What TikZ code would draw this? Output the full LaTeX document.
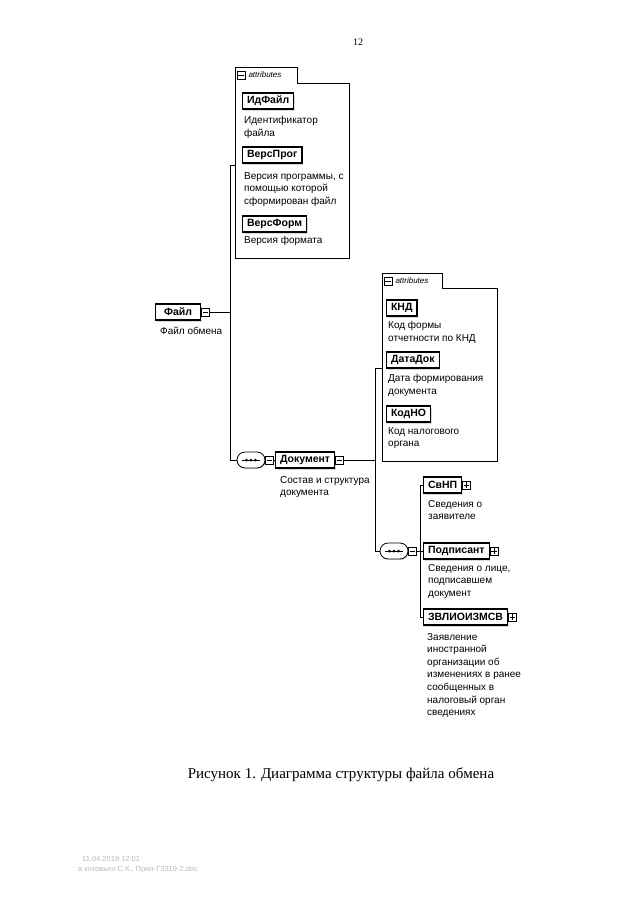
\documentclass[tikz,border=0pt]{standalone}
\usepackage{fontspec}
\setmainfont{Liberation Serif}
\setsansfont{Liberation Sans}
\usetikzlibrary{shapes.misc,positioning,shadows}

\tikzset{
  elem/.style={draw, line width=1.1pt, fill=white, anchor=west,
    font=\sffamily\bfseries\fontsize{10.5}{12}\selectfont,
    inner xsep=4.5pt, inner ysep=0pt, minimum height=16,
    drop shadow={shadow xshift=1.2pt, shadow yshift=-1.5pt, fill=gray!60, opacity=0.5}},
  note/.style={anchor=north west, align=left, inner sep=0pt,
    font=\sffamily\fontsize{10}{12.6}\selectfont},
  minusicon/.style={draw, fill=white, line width=0.6pt, minimum size=8, inner sep=0pt,
    path picture={\draw[line width=0.6pt] ([xshift=1.4pt]path picture bounding box.west) -- ([xshift=-1.4pt]path picture bounding box.east);}},
  plusicon/.style={draw, fill=white, line width=0.6pt, minimum size=8, inner sep=0pt,
    path picture={\draw[line width=0.6pt] ([xshift=1.4pt]path picture bounding box.west) -- ([xshift=-1.4pt]path picture bounding box.east)
      ([yshift=-1.4pt]path picture bounding box.north) -- ([yshift=1.4pt]path picture bounding box.south);}},
  seqbox/.style={draw, line width=0.8pt, fill=white, rounded rectangle,
    minimum width=28, minimum height=16, inner sep=0pt,
    drop shadow={shadow xshift=1pt, shadow yshift=-1pt, fill=gray!60, opacity=0.4}},
  attrbox/.style={draw, line width=0.7pt, fill=white,
    drop shadow={shadow xshift=1.2pt, shadow yshift=-1.2pt, fill=gray!60, opacity=0.5}},
  tabtext/.style={anchor=west, inner sep=0pt, font=\sffamily\itshape\fontsize{8}{9}\selectfont},
  footnote/.style={anchor=west, inner sep=0pt, text=gray!55, font=\sffamily\fontsize{7.5}{8}\selectfont},
  link/.style={line width=0.7pt}
}

\begin{document}
\begin{tikzpicture}[x=1pt,y=-1pt]
\useasboundingbox (0,0) rectangle (640,905);

\node[font=\fontsize{10}{12}\selectfont] (pnum) at (358,42) {12};

\draw[attrbox] (235,258) -- (235,67) -- (297,67) -- (297,83) -- (349,83) -- (349,258) -- cycle;
\node[minusicon] (tab1-i) at (241,75) {};
\node[tabtext, right=3pt of tab1-i] (tab1) {attributes};

\node[elem] (idfajl) at (242,101) {ИдФайл};
\node[note] (idfajl-n) at (244,116) {Идентификатор\\файла};
\node[elem] (versprog) at (242,155) {ВерсПрог};
\node[note] (versprog-n) at (244,172) {Версия программы, с\\помощью которой\\сформирован файл};
\node[elem] (versform) at (242,224) {ВерсФорм};
\node[note] (versform-n) at (244,236) {Версия формата};

\node[elem, minimum width=45] (fajl) at (155,312) {Файл};
\node[minusicon, right=0pt of fajl] (fajl-i) {};
\node[note] (fajl-n) at (160,327) {Файл обмена};

\draw[attrbox] (382,461) -- (382,273) -- (442,273) -- (442,288) -- (497,288) -- (497,461) -- cycle;
\node[minusicon] (tab2-i) at (388,281) {};
\node[tabtext, right=3pt of tab2-i] (tab2) {attributes};

\node[elem] (knd) at (386,308) {КНД};
\node[note] (knd-n) at (388,321) {Код формы\\отчетности по КНД};
\node[elem] (datadok) at (386,360) {ДатаДок};
\node[note] (datadok-n) at (388,374) {Дата формирования\\документа};
\node[elem] (kodno) at (386,414) {КодНО};
\node[note] (kodno-n) at (388,427) {Код налогового\\органа};

\node[seqbox] (seq1) at (251,460) {};
\draw[link] ([xshift=5pt]seq1.west) -- ([xshift=-5pt]seq1.east);
\foreach \d in {-4.5,0,4.5}
  \fill ([xshift=\d pt]seq1.center) circle (1.5pt);
\node[minusicon, right=0pt of seq1] (seq1-i) {};

\node[elem] (dokument) at (275,460) {Документ};
\node[minusicon, right=0pt of dokument] (dokument-i) {};
\node[note] (dokument-n) at (280,476) {Состав и структура\\документа};

\node[seqbox] (seq2) at (394,551) {};
\draw[link] ([xshift=5pt]seq2.west) -- ([xshift=-5pt]seq2.east);
\foreach \d in {-4.5,0,4.5}
  \fill ([xshift=\d pt]seq2.center) circle (1.5pt);
\node[minusicon, right=0pt of seq2] (seq2-i) {};

\node[elem] (svnp) at (423,485) {СвНП};
\node[plusicon, right=0pt of svnp] (svnp-i) {};
\node[note] (svnp-n) at (428,500) {Сведения о\\заявителе};
\node[elem] (podpisant) at (423,551) {Подписант};
\node[plusicon, right=0pt of podpisant] (podpisant-i) {};
\node[note] (podpisant-n) at (428,564) {Сведения о лице,\\подписавшем\\документ};
\node[elem] (zvl) at (423,617) {ЗВЛИОИЗМСВ};
\node[plusicon, right=0pt of zvl] (zvl-i) {};
\node[note] (zvl-n) at (427,633) {Заявление\\иностранной\\организации об\\изменениях в ранее\\сообщенных в\\налоговый орган\\сведениях};

\coordinate (a1) at (235,165);
\coordinate (t1) at (230,165);
\coordinate (a2) at (382,368);
\coordinate (t2) at (375,368);
\coordinate (t3) at (420,485);

\draw[link] (fajl-i.east) -- (fajl-i.east -| t1);
\draw[link] (a1) -- (t1) |- (seq1.west);
\draw[link] (seq1-i.east) -- (dokument.west);
\draw[link] (dokument-i.east) -- (dokument-i.east -| t2);
\draw[link] (a2) -- (t2) |- (seq2.west);
\draw[link] (seq2-i.east) -- (seq2-i.east -| t3);
\draw[link] (svnp.west) -- (svnp.west -| t3) |- (zvl.west);
\draw[link] (podpisant.west) -- (podpisant.west -| t3);

\node[font=\fontsize{15}{17}\selectfont] (caption) at (341,775) {Рисунок 1. Диаграмма структуры файла обмена};

\node[footnote] (foot1) at (82,859) {11.04.2019 12:01};
\node[footnote] (foot2) at (78,870) {а котовыго С.К., Прил-Г3319-2.doc};
\end{tikzpicture}
\end{document}
